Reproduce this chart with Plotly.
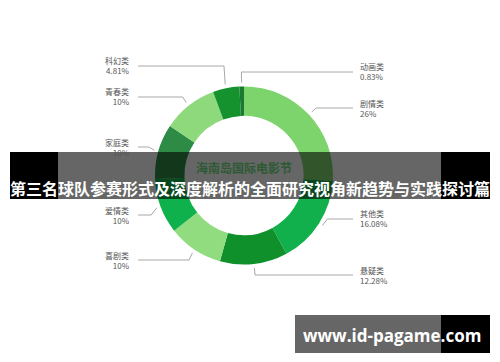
import math
import plotly.graph_objects as go

# ---- data ----
categories = ["剧情类", "其他类", "悬疑类", "喜剧类", "爱情类", "家庭类", "青春类", "科幻类", "动画类"]
values = [26, 16.08, 12.28, 10, 10, 10, 10, 4.81, 0.83]
value_labels = ["26%", "16.08%", "12.28%", "10%", "10%", "10%", "10%", "4.81%", "0.83%"]
center_title = "海南岛国际电影节"
banner_text = "第三名球队参赛形式及深度解析的全面研究视角新趋势与实践探讨篇"
watermark_text = "www.id-pagame.com"

# ---- styles / layout ----
colors = ["#7ed46c", "#12b04c", "#10902b", "#92dc80", "#0fb14c", "#2e8b45", "#8dd97c", "#15922e", "#1b7a31"]
label_side = ["R", "R", "R", "L", "L", "L", "L", "L", "R"]
label_y_px = [108, 219, 275, 260, 215, 147, 97, 66, 72]

W, H = 500, 362
CX, CY, R = 244, 175.5, 89
HOLE = 0.67
LEFT_END, RIGHT_END = 138, 353
LEFT_TEXT, RIGHT_TEXT = 132, 358

def px(x):
    return x / W

def py(y):
    return 1 - y / H

fig = go.Figure()
fig.add_trace(go.Pie(
    labels=categories, values=values, sort=False, direction="clockwise",
    rotation=0, hole=HOLE, textinfo="none", hoverinfo="label+percent",
    marker=dict(colors=colors, line=dict(width=0)), showlegend=False,
    domain=dict(x=[px(CX - R), px(CX + R)], y=[py(CY + R), py(CY - R)]),
))

shapes = []
annotations = []
total = sum(values)
cum = 0
for cat, v, vl, side, ly in zip(categories, values, value_labels, label_side, label_y_px):
    mid = (cum + v / 2) / total
    cum += v
    th = 2 * math.pi * mid
    ra = R + 4
    ax = CX + ra * math.sin(th)
    ay = CY - ra * math.cos(th)
    ex = ax + math.sin(th) * 6
    end_x = LEFT_END if side == "L" else RIGHT_END
    path = f"M {px(ax)} {py(ay)} L {px(ex)} {py(ly)} L {px(end_x)} {py(ly)}"
    shapes.append(dict(type="path", xref="paper", yref="paper", path=path,
                       line=dict(color="#a8a8a8", width=1), layer="below"))
    annotations.append(dict(
        x=px(LEFT_TEXT if side == "L" else RIGHT_TEXT), y=py(ly), xref="paper", yref="paper",
        text=f"{cat}<br>{vl}", showarrow=False,
        xanchor="right" if side == "L" else "left", yanchor="middle",
        align="right" if side == "L" else "left",
        font=dict(family="Noto Sans CJK SC", size=8, color="#555555"),
    ))

# center title (appears under the dark banner)
annotations.append(dict(x=px(CX), y=py(167), xref="paper", yref="paper", text=f"<b>{center_title}</b>",
                        showarrow=False, xanchor="center", yanchor="middle",
                        font=dict(family="Noto Sans CJK SC", size=12, color="#2c5a33")))

# banner overlay
B_TOP, B_BOT = 152, 199
shapes.append(dict(type="rect", xref="paper", yref="paper", x0=px(58), x1=px(441), y0=py(B_BOT), y1=py(B_TOP),
                   fillcolor="rgba(0,0,0,0.6)", line=dict(width=0), layer="above"))
shapes.append(dict(type="rect", xref="paper", yref="paper", x0=px(10), x1=px(58), y0=py(B_BOT), y1=py(B_TOP),
                   fillcolor="#000000", line=dict(width=0), layer="above"))
shapes.append(dict(type="rect", xref="paper", yref="paper", x0=px(441), x1=px(490), y0=py(B_BOT), y1=py(B_TOP),
                   fillcolor="#000000", line=dict(width=0), layer="above"))
annotations.append(dict(x=px(250), y=py(188), xref="paper", yref="paper", text=f"<b>{banner_text}</b>",
                        showarrow=False, xanchor="center", yanchor="middle",
                        font=dict(family="Noto Sans CJK SC", size=16, color="#ffffff")))

# watermark box
W_TOP, W_BOT = 315, 353
shapes.append(dict(type="rect", xref="paper", yref="paper", x0=px(295), x1=px(441), y0=py(W_BOT), y1=py(W_TOP),
                   fillcolor="#666666", line=dict(width=0), layer="above"))
shapes.append(dict(type="rect", xref="paper", yref="paper", x0=px(441), x1=px(490), y0=py(W_BOT), y1=py(W_TOP),
                   fillcolor="#000000", line=dict(width=0), layer="above"))
annotations.append(dict(x=px(392), y=py(335), xref="paper", yref="paper", text=f"<b>{watermark_text}</b>",
                        showarrow=False, xanchor="center", yanchor="middle",
                        font=dict(family="Open Sans", size=17, color="#ffffff")))

fig.update_layout(
    width=W, height=H, margin=dict(l=0, r=0, t=0, b=0),
    paper_bgcolor="#ffffff", plot_bgcolor="#ffffff",
    shapes=shapes, annotations=annotations,
)
fig.write_html("out.html")
